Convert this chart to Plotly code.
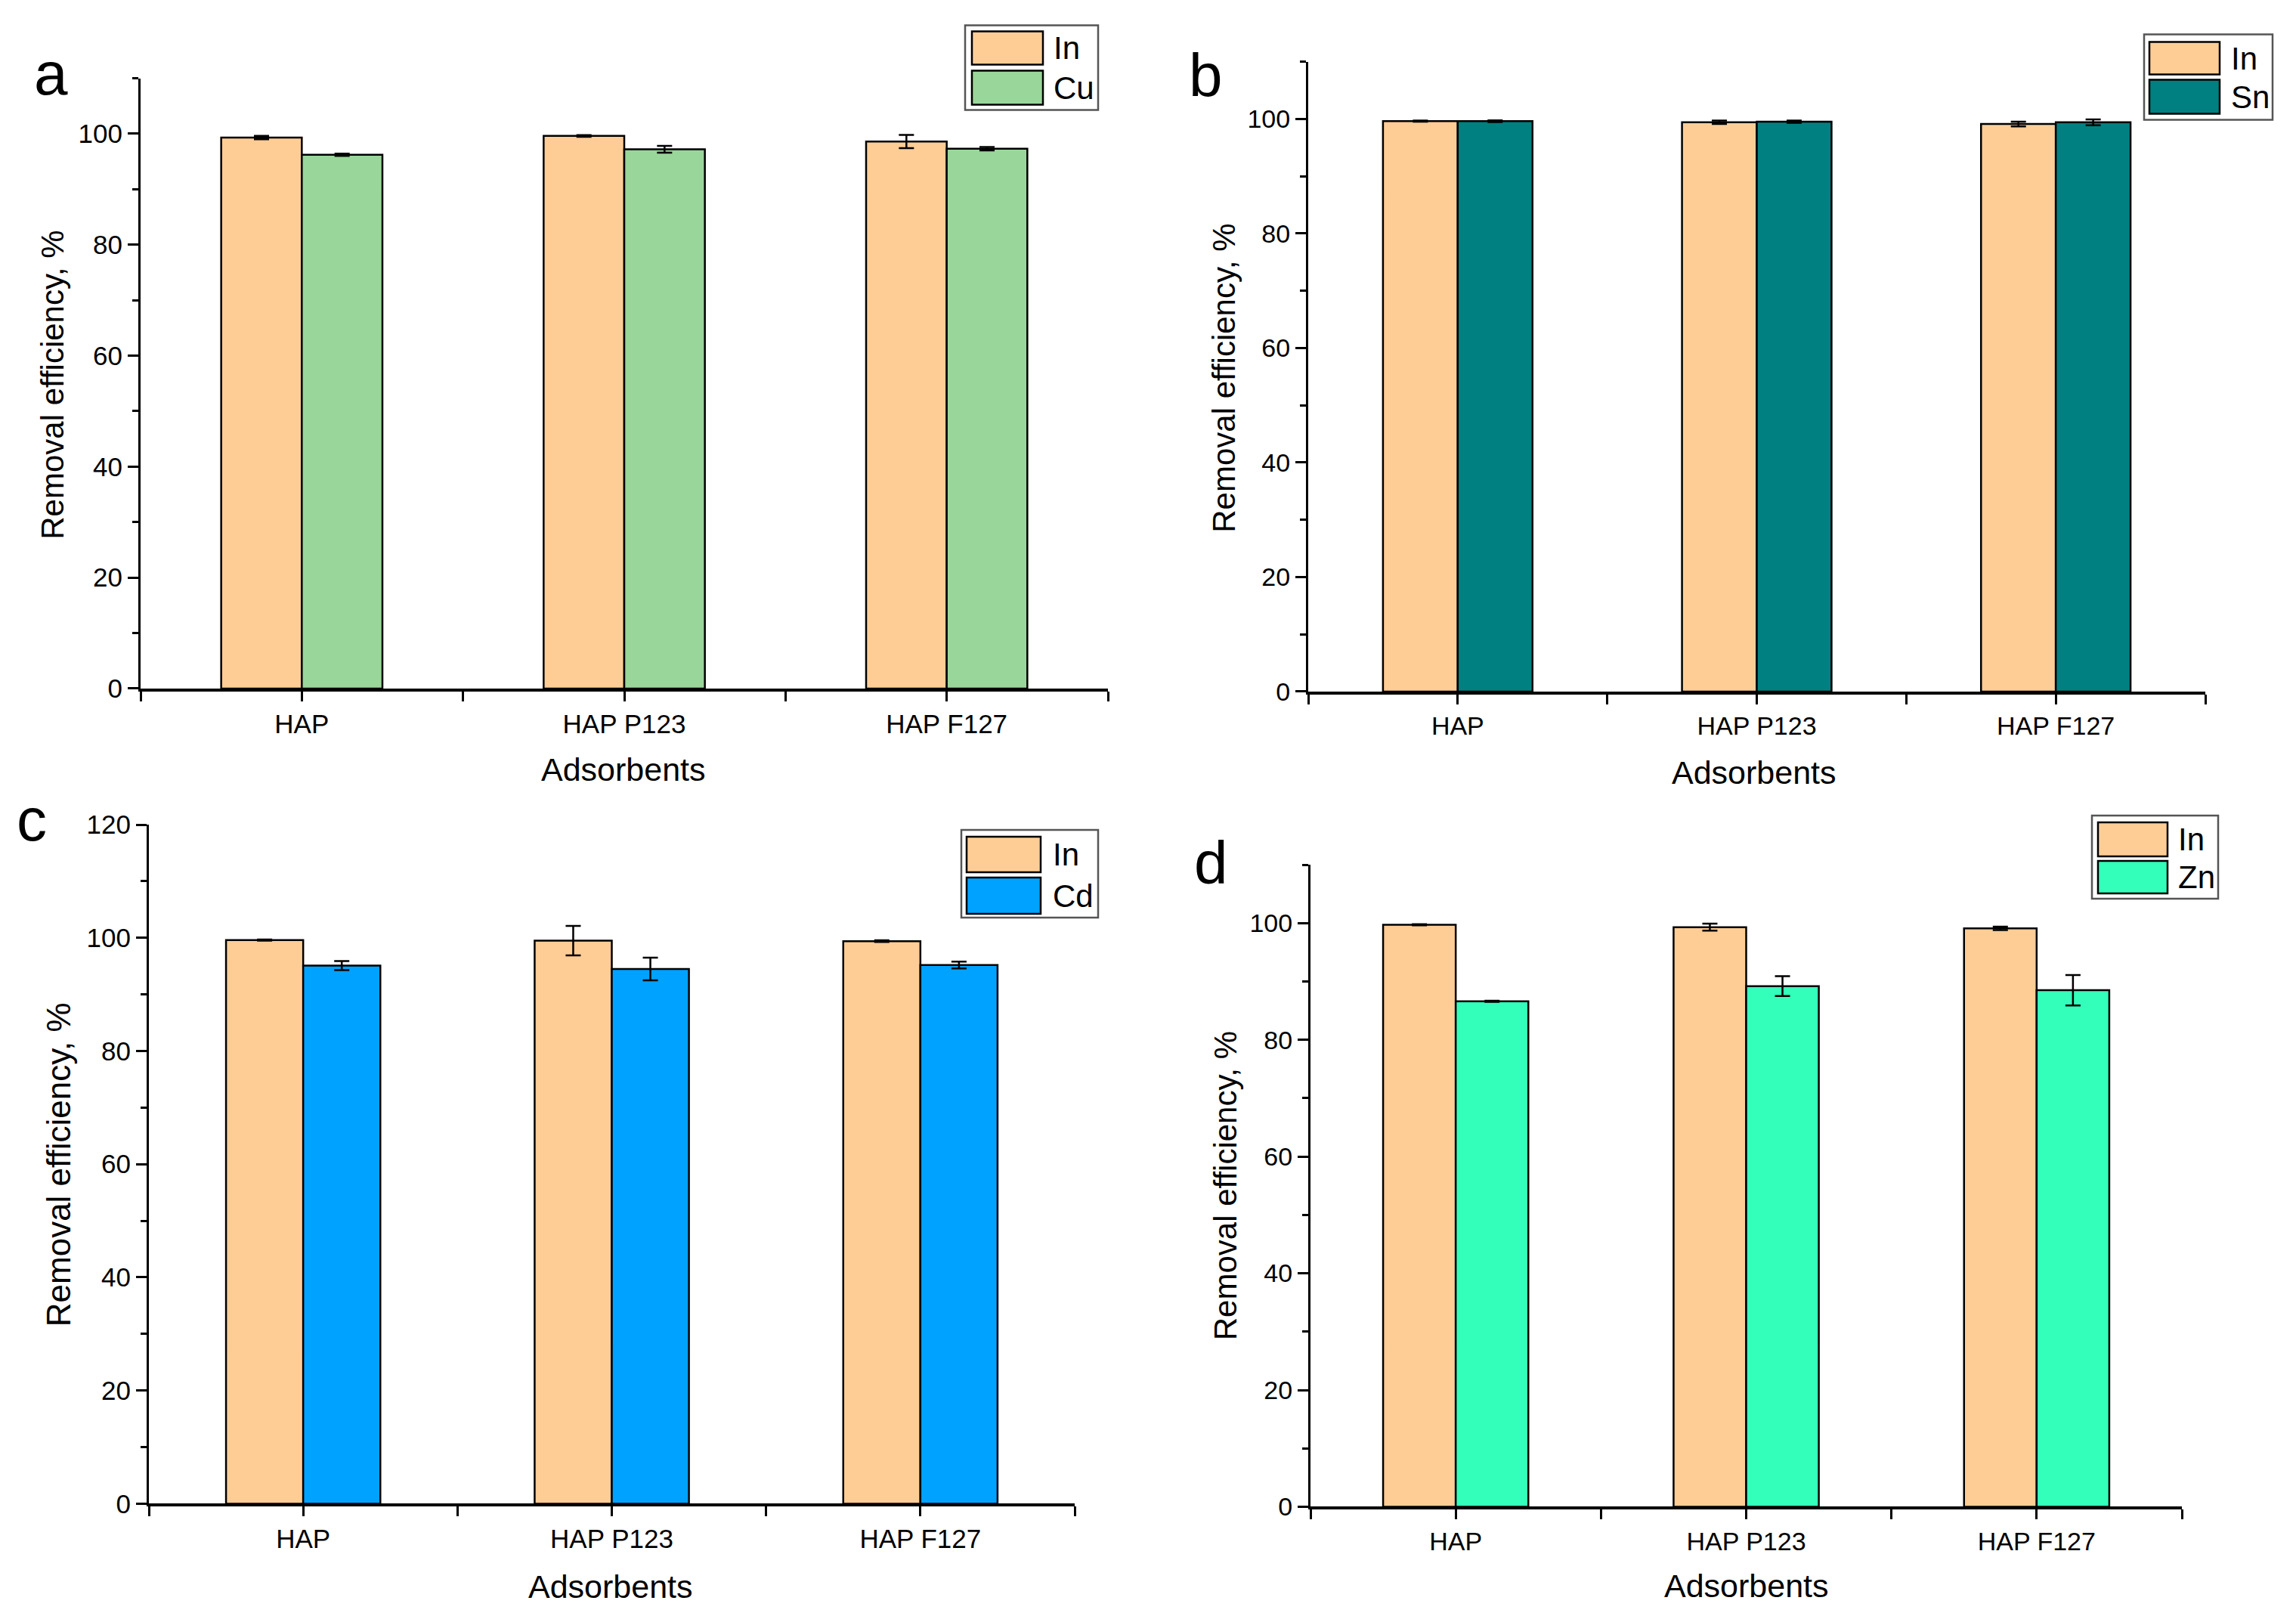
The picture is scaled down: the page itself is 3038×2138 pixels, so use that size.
import plotly.graph_objects as go

W, H = 3038, 2138

# ---------------- data ----------------
categories = ["HAP", "HAP P123", "HAP F127"]

a_in = [99.3, 99.6, 98.6]
a_in_err = [0.3, 0.15, 1.2]
a_cu = [96.2, 97.2, 97.3]
a_cu_err = [0.2, 0.6, 0.3]

b_in = [99.6, 99.4, 99.1]
b_in_err = [0.1, 0.3, 0.4]
b_sn = [99.6, 99.5, 99.4]
b_sn_err = [0.15, 0.2, 0.5]

c_in = [99.6, 99.5, 99.4]
c_in_err = [0.1, 2.6, 0.15]
c_cd = [95.1, 94.5, 95.2]
c_cd_err = [0.8, 2.0, 0.6]

d_in = [99.7, 99.3, 99.1]
d_in_err = [0.1, 0.6, 0.3]
d_zn = [86.6, 89.2, 88.5]
d_zn_err = [0.1, 1.7, 2.6]

panel_letters = ["a", "b", "c", "d"]
series_names = [("In", "Cu"), ("In", "Sn"), ("In", "Cd"), ("In", "Zn")]
y_title = "Removal efficiency, %"
x_title = "Adsorbents"
y_ranges = [110, 110, 120, 110]

# ---------------- style ----------------
col_in = "#FECD96"
col_second = ["#99D699", "#008080", "#00A2FF", "#33FFBB"]
FONT = "Liberation Sans, Arial, sans-serif"

# vertical calibration of the captured page (paper top/bottom in captured pixels)
Y_OFF, Y_SPAN = 19.5, 2098.0


def fx(x):
    return x / W


def fy(y):
    return 1 - (y - Y_OFF) / Y_SPAN


def px(x, y):
    return fx(x), fy(y)


# plot areas in target pixels (x0, x1, ytop, ybottom)
areas = [
    (186, 1466, 103, 910),
    (1731, 2918, 81, 914),
    (197, 1422, 1090, 1988),
    (1734, 2887, 1143, 1992),
]
tick_fs = [35, 34, 35, 34]

idx = list(range(len(categories)))
data = [
    (a_in, a_in_err, a_cu, a_cu_err),
    (b_in, b_in_err, b_sn, b_sn_err),
    (c_in, c_in_err, c_cd, c_cd_err),
    (d_in, d_in_err, d_zn, d_zn_err),
]

fig = go.Figure()

for k in range(4):
    xa = "x" if k == 0 else f"x{k+1}"
    ya = "y" if k == 0 else f"y{k+1}"
    v1, e1, v2, e2 = data[k]
    for j, (vals, errs, col) in enumerate([(v1, e1, col_in), (v2, e2, col_second[k])]):
        fig.add_trace(go.Bar(
            x=idx, y=vals, name=series_names[k][j],
            xaxis=xa, yaxis=ya, offsetgroup=str(j),
            marker=dict(color=col, line=dict(color="black", width=2.5)),
            error_y=dict(type="data", array=errs, visible=True,
                         color="black", thickness=2.5, width=10),
            showlegend=False,
        ))

layout = dict(
    width=W, height=H,
    margin=dict(l=0, r=0, t=0, b=0),
    paper_bgcolor="white", plot_bgcolor="white",
    barmode="group", bargap=0.5, bargroupgap=0,
    font=dict(family=FONT, color="black"),
)

shapes = []
annotations = []

for k in range(4):
    x0, x1, yt, yb = areas[k]
    xs = "xaxis" if k == 0 else f"xaxis{k+1}"
    ys = "yaxis" if k == 0 else f"yaxis{k+1}"
    xa = "x" if k == 0 else f"x{k+1}"
    ya = "y" if k == 0 else f"y{k+1}"
    layout[xs] = dict(
        domain=[fx(x0), fx(x1)], anchor=ya,
        range=[-0.5, len(categories) - 0.5],
        tickmode="array", tickvals=idx, ticktext=categories,
        ticks="outside", ticklen=13, tickwidth=2.5, tickcolor="black",
        minor=dict(ticks="outside", tick0=0.5, dtick=1, ticklen=13,
                   tickwidth=2.5, tickcolor="black"),
        showline=True, linewidth=3.5, linecolor="black",
        showgrid=False, zeroline=False,
        tickfont=dict(size=tick_fs[k], family=FONT, color="black"),
        fixedrange=True,
    )
    layout[ys] = dict(
        domain=[fy(yb), fy(yt)], anchor=xa,
        range=[0, y_ranges[k]],
        tickmode="linear", tick0=0, dtick=20,
        ticks="outside", ticklen=14, tickwidth=2.5, tickcolor="black",
        minor=dict(ticks="outside", dtick=10, ticklen=8, tickwidth=2.5,
                   tickcolor="black"),
        showline=True, linewidth=3, linecolor="black",
        showgrid=False, zeroline=False,
        tickfont=dict(size=tick_fs[k], family=FONT, color="black"),
        fixedrange=True,
    )

# axis titles
ytitle_pos = [(70, 509, 42), (1620, 500, 42), (77, 1540, 44), (1621, 1568, 42)]
xtitle_pos = [(825, 1017), (2321, 1021), (808, 2098), (2311, 2097)]
for k in range(4):
    x, y, fs = ytitle_pos[k]
    px_, py_ = px(x, y)
    annotations.append(dict(text=y_title, x=px_, y=py_, xref="paper", yref="paper",
                            xanchor="center", yanchor="middle", textangle=-90,
                            showarrow=False, font=dict(size=fs, family=FONT, color="black")))
    x, y = xtitle_pos[k]
    px_, py_ = px(x, y)
    annotations.append(dict(text=x_title, x=px_, y=py_, xref="paper", yref="paper",
                            xanchor="center", yanchor="middle",
                            showarrow=False, font=dict(size=43, family=FONT, color="black")))

# panel letters
letter_pos = [(44, 97), (1572, 99), (21, 1083), (1579, 1140)]
for k in range(4):
    x, y = letter_pos[k]
    px_, py_ = px(x, y)
    annotations.append(dict(text=panel_letters[k], x=px_, y=py_, xref="paper", yref="paper",
                            xanchor="left", yanchor="middle", borderpad=0,
                            showarrow=False, font=dict(size=80, family=FONT, color="black")))

# legends (box, swatches, labels)
legend_geo = [
    ((1277, 1453, 33, 145), (1286, 1380), (41, 85), (93, 138), 1393),
    ((2837, 3007, 45, 158), (2844, 2937), (55, 98), (105, 150), 2951),
    ((1272, 1453, 1097, 1213), (1279, 1377), (1106, 1153), (1160, 1208), 1392),
    ((2768, 2935, 1078, 1188), (2776, 2868), (1087, 1132), (1138, 1181), 2881),
]
for k in range(4):
    box, swx, s1, s2, tx = legend_geo[k]
    bx0, by1 = px(box[0], box[2])
    bx1, by0 = px(box[1], box[3])
    shapes.append(dict(type="rect", xref="paper", yref="paper", x0=bx0, x1=bx1,
                       y0=by0, y1=by1, line=dict(color="#555555", width=2.5),
                       fillcolor="white", layer="above"))
    for j, (sy, col) in enumerate([(s1, col_in), (s2, col_second[k])]):
        sx0, sy1 = px(swx[0], sy[0])
        sx1, sy0 = px(swx[1], sy[1])
        shapes.append(dict(type="rect", xref="paper", yref="paper", x0=sx0, x1=sx1,
                           y0=sy0, y1=sy1, line=dict(color="black", width=2.5),
                           fillcolor=col, layer="above"))
        tx_, ty_ = px(tx, (sy[0] + sy[1]) / 2)
        annotations.append(dict(text=series_names[k][j], x=tx_, y=ty_, xref="paper", yref="paper",
                                xanchor="left", yanchor="middle", borderpad=0,
                                showarrow=False, font=dict(size=42, family=FONT, color="black")))

layout["shapes"] = shapes
layout["annotations"] = annotations
fig.update_layout(**layout)

fig.write_html("out.html", config={"displayModeBar": False},
               post_script="document.body.style.margin='0';")
